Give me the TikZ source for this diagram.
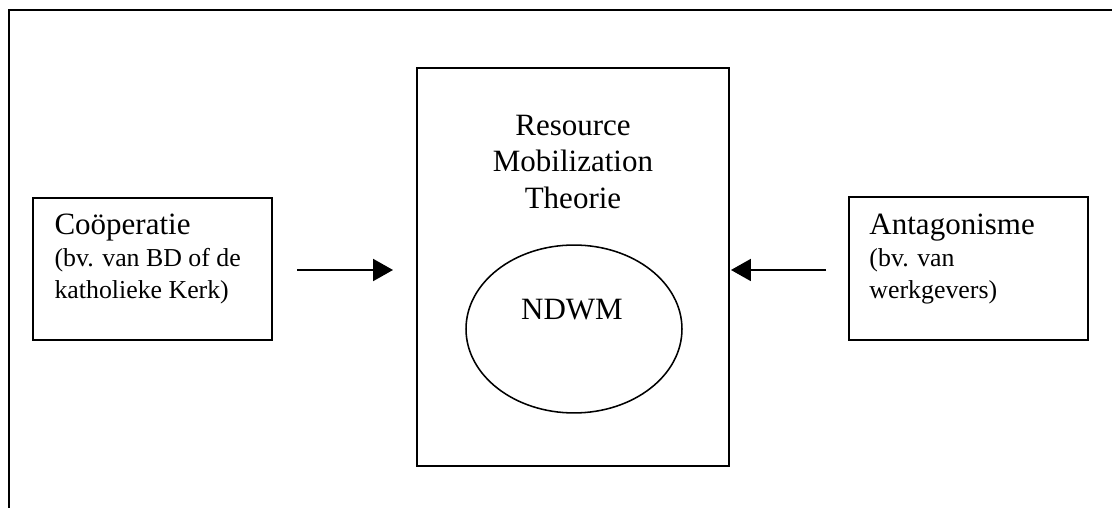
\documentclass[tikz,border=0pt]{standalone}
\usepackage{fontspec}
\setmainfont{Liberation Serif}
\usepackage{tikz}
\usetikzlibrary{shapes.geometric, arrows.meta, positioning}

\tikzset{
  sidebox/.style={draw, line width=0.75pt, minimum width=92.5pt, minimum height=55.2pt, inner sep=0pt},
  theorybox/.style={draw, line width=0.75pt, minimum width=120.8pt, minimum height=154.1pt, inner sep=0pt},
  movement/.style={draw, ellipse, line width=0.6pt, minimum width=83.6pt, minimum height=65pt, inner sep=0pt},
  boxtext/.style={inner sep=0pt, align=left, font=\fontsize{10}{12.4}\selectfont},
  bigtext/.style={inner sep=0pt, font=\fontsize{12}{14.1}\selectfont},
  influence/.style={line width=0.75pt, -{Triangle[length=7.7pt, width=8.5pt]}}
}

\begin{document}
\begin{tikzpicture}[x=0.3871pt, y=-0.3871pt]
\useasboundingbox (0,0) rectangle (1112,508);

% outer frame (right and bottom side cut off)
\draw[line width=0.9pt] (9,508) -- (9,10) -- (1112,10);

% central theory box with the movement inside
\node[theorybox] (rmt) at (573,267) {};
\node[bigtext, align=center, anchor=north] (rmttxt) at (573,114.5) {Resource\\Mobilization\\Theorie};
\node[movement] (ndwm) at (574,329) {};
\node[bigtext] (ndwmtxt) at (572,310) {NDWM};

% cooperation (left)
\node[sidebox] (coop) at (152.5,269) {};
\node[boxtext, below right=6.6pt and 8.5pt of coop.north west] (cooptxt) {{\fontsize{12}{14.1}\selectfont Coöperatie}\\(bv. van BD of de\\katholieke Kerk)};

% antagonism (right)
\node[sidebox] (antag) at (968.5,268.5) {};
\node[boxtext, below right=6.6pt and 8.1pt of antag.north west] (antagtxt) {{\fontsize{12}{14.1}\selectfont Antagonisme}\\(bv. van\\werkgevers)};

% influence on the theory box
\coordinate (coopout) at (297,270);
\coordinate (rmtleft) at (393,270);
\coordinate (antagout) at (826,270);
\coordinate (rmtright) at (731,270);
\draw[influence] (coopout) -- (rmtleft);
\draw[influence] (antagout) -- (rmtright);
\end{tikzpicture}
\end{document}
